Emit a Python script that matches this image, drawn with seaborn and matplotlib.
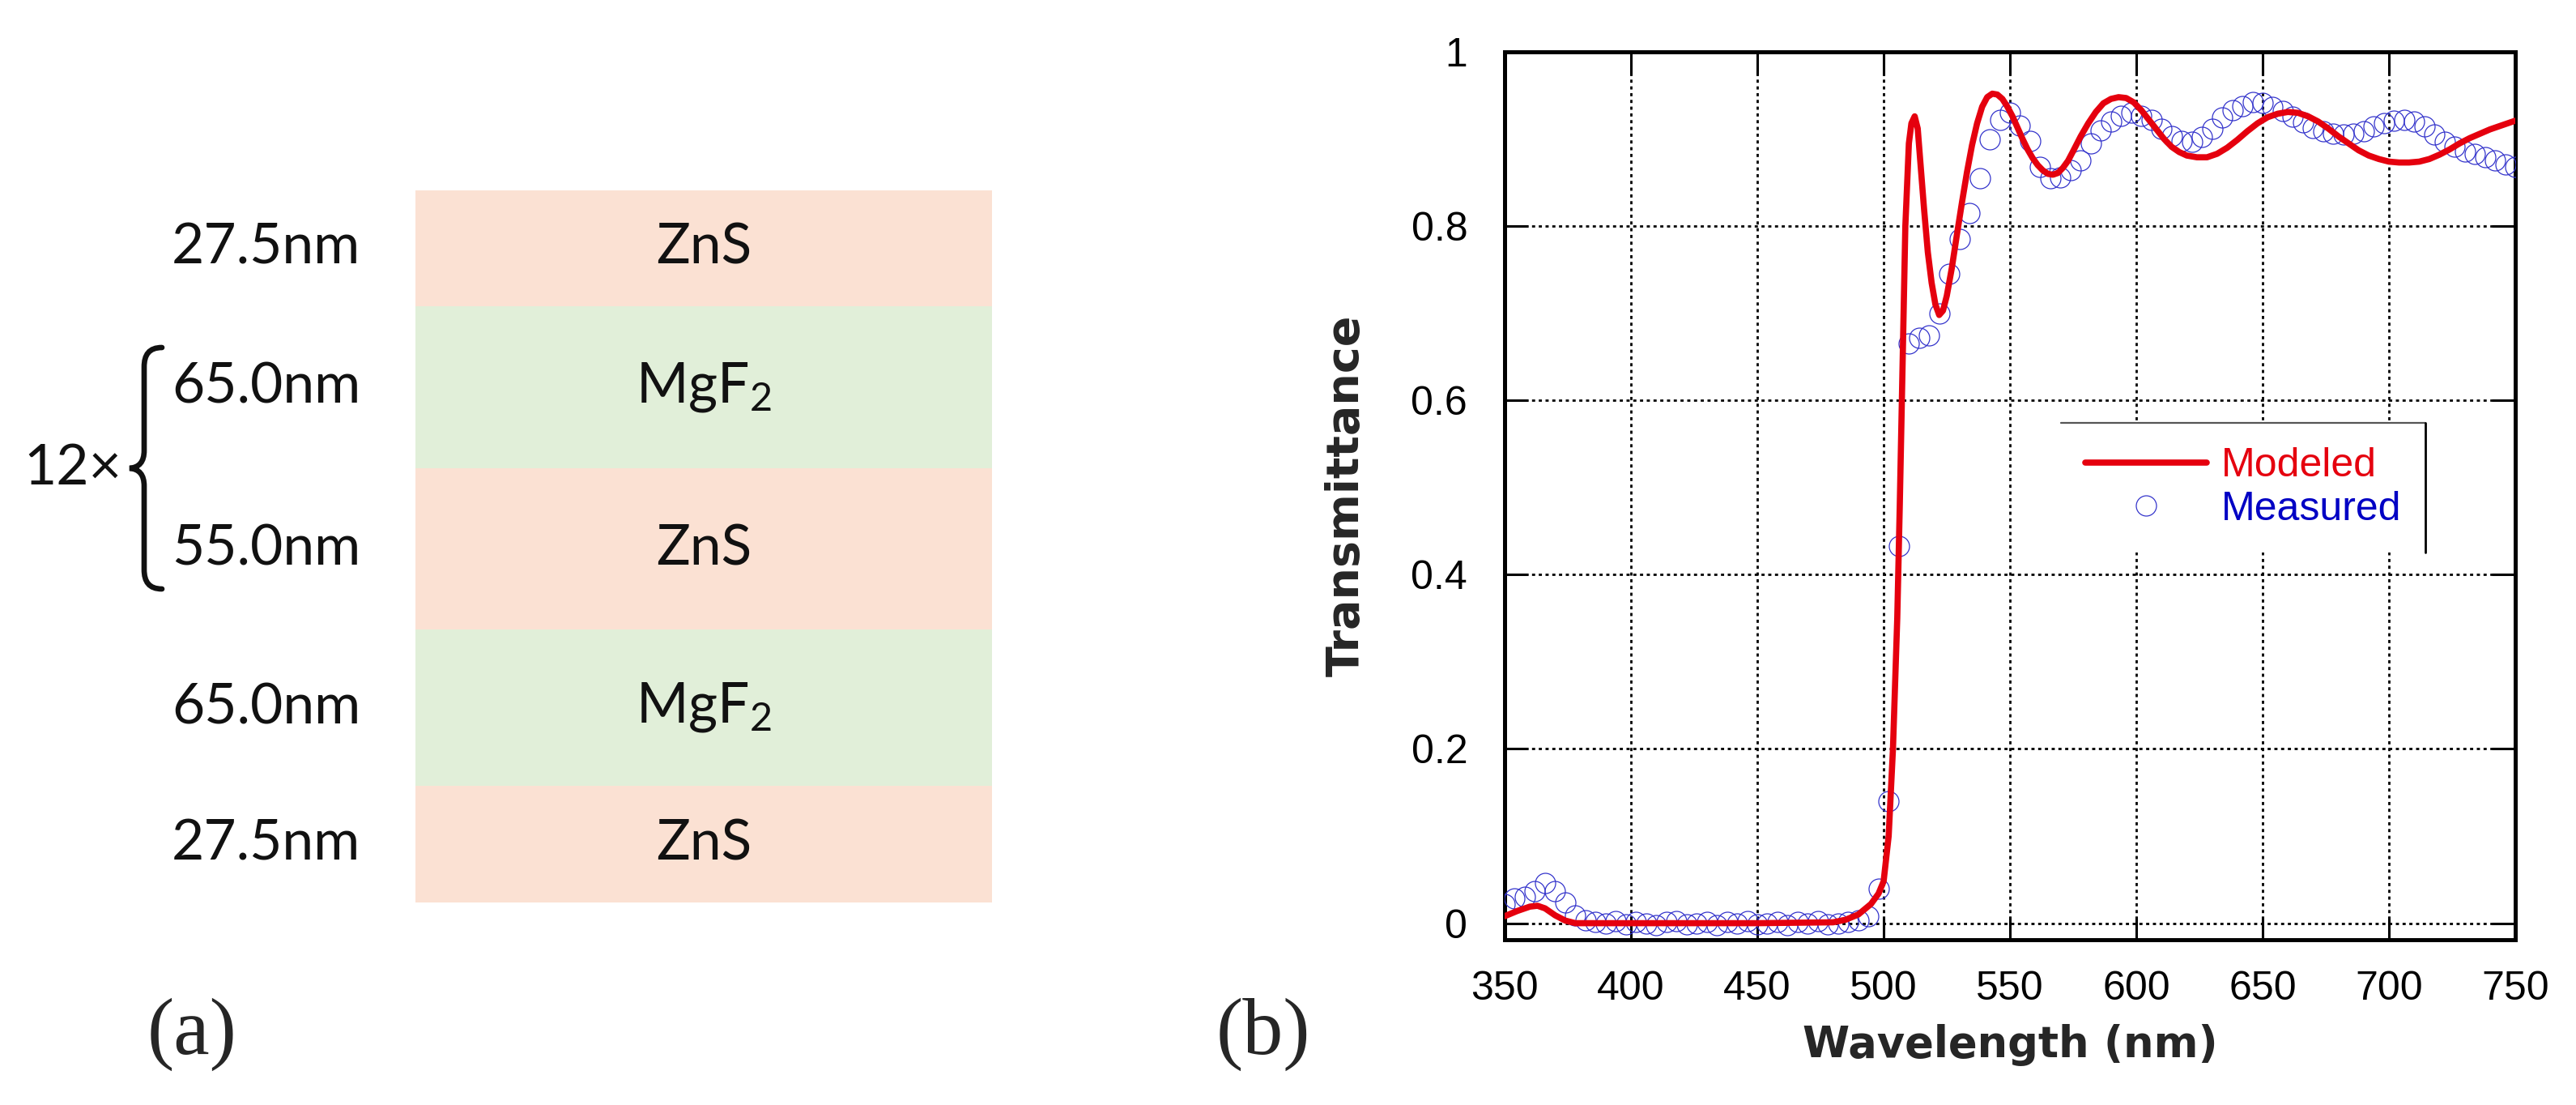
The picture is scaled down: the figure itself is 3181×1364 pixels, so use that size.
import numpy as np
import matplotlib
matplotlib.use("Agg")
import matplotlib.pyplot as plt
import matplotlib.transforms as mtransforms
from matplotlib.path import Path
from matplotlib.patches import PathPatch
from matplotlib.lines import Line2D
import seaborn as sns

# ---------------- (a) layer stack ----------------
layer_names = ["ZnS", "MgF$_2$", "ZnS", "MgF$_2$", "ZnS"]
layer_thickness = ["27.5nm", "65.0nm", "55.0nm", "65.0nm", "27.5nm"]
band_height = [143, 200, 199, 193, 144]   # schematic heights, not to scale
repeat_label = "12×"
zns_color = "#FBE1D3"
mgf_color = "#E1EFD9"

# ---------------- (b) transmittance ----------------
wl_model = [350, 355, 360, 363, 366, 370, 374, 378, 400, 450,
            480, 485, 490, 495, 498, 500, 502, 503.7, 505.4, 506.4,
            507.5, 508.6, 510, 511, 512.3, 513.5, 514.5, 516, 517.5, 519,
            520.5, 522, 523.5, 525, 527, 529, 531, 533, 535, 537,
            539, 541, 543, 545, 547, 549, 551, 553, 555, 557,
            559, 561, 563, 565, 567, 569, 571, 573, 575, 578,
            581, 584, 587, 590, 593, 596, 599, 602, 605, 608,
            611, 614, 617, 620, 624, 628, 632, 636, 640, 644,
            648, 652, 656, 660, 664, 668, 672, 676, 680, 684,
            688, 692, 696, 700, 704, 708, 712, 716, 720, 724,
            728, 732, 736, 740, 745, 750]
t_model = [0.008, 0.014, 0.019, 0.020, 0.017, 0.009, 0.003, 0.000, 0.000, 0.000,
           0.001, 0.004, 0.010, 0.022, 0.034, 0.048, 0.100, 0.200, 0.350, 0.480,
           0.640, 0.800, 0.895, 0.918, 0.926, 0.912, 0.875, 0.820, 0.770, 0.735,
           0.710, 0.698, 0.703, 0.720, 0.752, 0.790, 0.827, 0.862, 0.893, 0.918,
           0.937, 0.948, 0.952, 0.951, 0.946, 0.937, 0.926, 0.913, 0.900, 0.888,
           0.878, 0.870, 0.864, 0.860, 0.859, 0.861, 0.867, 0.875, 0.886, 0.903,
           0.918, 0.931, 0.941, 0.946, 0.948, 0.947, 0.942, 0.933, 0.922, 0.911,
           0.900, 0.891, 0.885, 0.881, 0.879, 0.879, 0.883, 0.890, 0.899, 0.909,
           0.918, 0.925, 0.929, 0.931, 0.930, 0.926, 0.920, 0.912, 0.903, 0.895,
           0.887, 0.881, 0.877, 0.874, 0.873, 0.873, 0.874, 0.877, 0.882, 0.888,
           0.895, 0.901, 0.906, 0.911, 0.916, 0.921]

wl_meas = list(range(350, 751, 4))
t_meas = [0.022, 0.028, 0.030, 0.037, 0.046, 0.037, 0.024, 0.009, 0.003, 0.001,
          0.000, 0.002, -0.001, 0.001, 0.000, -0.002, 0.001, 0.002, -0.001, 0.000,
          0.001, -0.002, 0.001, 0.000, 0.002, -0.001, 0.000, 0.001, -0.002, 0.001,
          0.000, 0.002, -0.001, 0.000, 0.001, 0.003, 0.008, 0.040, 0.140, 0.433,
          0.665, 0.672, 0.675, 0.700, 0.745, 0.785, 0.815, 0.855, 0.900, 0.922,
          0.930, 0.915, 0.898, 0.868, 0.855, 0.856, 0.864, 0.875, 0.895, 0.910,
          0.920, 0.927, 0.930, 0.927, 0.922, 0.912, 0.903, 0.898, 0.897, 0.902,
          0.912, 0.925, 0.933, 0.938, 0.942, 0.941, 0.937, 0.932, 0.926, 0.919,
          0.913, 0.909, 0.906, 0.905, 0.906, 0.909, 0.914, 0.918, 0.921, 0.922,
          0.920, 0.914, 0.905, 0.897, 0.891, 0.886, 0.883, 0.879, 0.875, 0.871,
          0.868]

x_ticks = [350, 400, 450, 500, 550, 600, 650, 700, 750]
y_ticks = [0, 0.2, 0.4, 0.6, 0.8, 1.0]
y_ticklabels = ["0", "0.2", "0.4", "0.6", "0.8", "1"]

red = "#E5000E"
blue_marker = "#3535CC"
blue_text = "#0000C4"

sns.set_style("ticks")
plt.rcParams["font.family"] = ["Liberation Sans", "DejaVu Sans"]
plt.rcParams["mathtext.fontset"] = "custom"
plt.rcParams["mathtext.rm"] = "Lato"
plt.rcParams["mathtext.it"] = "Lato:italic"
plt.rcParams["mathtext.bf"] = "Lato:bold"
plt.rcParams["mathtext.default"] = "rm"

W, H = 3181, 1364
fig = plt.figure(figsize=(W / 100, H / 100), dpi=100)


def fbox(l, t, r, b):
    return [l / W, 1 - b / H, (r - l) / W, (b - t) / H]


# ---- panel (a)
axa = fig.add_axes(fbox(513, 235, 1225, 1114))
bottoms = np.concatenate([[0], np.cumsum(band_height)[:-1]])
colors = [zns_color if n == "ZnS" else mgf_color for n in layer_names]
axa.bar([0] * len(band_height), band_height, bottom=bottoms, width=1,
        color=colors, linewidth=0)
axa.set_xlim(-0.5, 0.5)
axa.set_ylim(sum(band_height), 0)
axa.axis("off")

blend = mtransforms.blended_transform_factory(axa.transAxes, axa.transData)
centers = bottoms + np.array(band_height) / 2
for name, thick, yc in zip(layer_names, layer_thickness, centers):
    axa.text(0, yc, name, ha="center", va="center", fontsize=50,
             family="Lato", color="#111111")
    axa.text(-0.0955, yc, thick, transform=blend, ha="right", va="center",
             fontsize=50, family="Lato", color="#111111", clip_on=False)

# brace around the repeated pair
def px(x):
    return (x - 513) / 712

yc = bottoms[2]
verts = [(px(200), yc - 149),
         (px(184), yc - 149), (px(178), yc - 140), (px(178), yc - 125),
         (px(178), yc - 22),
         (px(178), yc - 8), (px(172), yc - 1), (px(160), yc),
         (px(172), yc + 1), (px(178), yc + 8), (px(178), yc + 22),
         (px(178), yc + 125),
         (px(178), yc + 140), (px(184), yc + 149), (px(200), yc + 149)]
codes = [Path.MOVETO, Path.CURVE4, Path.CURVE4, Path.CURVE4, Path.LINETO,
         Path.CURVE4, Path.CURVE4, Path.CURVE4, Path.CURVE4, Path.CURVE4,
         Path.CURVE4, Path.LINETO, Path.CURVE4, Path.CURVE4, Path.CURVE4]
axa.add_patch(PathPatch(Path(verts, codes), transform=blend, fill=False,
                        lw=4.8, edgecolor="#111111", clip_on=False,
                        capstyle="round"))
axa.text(px(150), yc, repeat_label, transform=blend, ha="right", va="center",
         fontsize=50, family="Lato", color="#111111", clip_on=False)

fig.text(237 / W, 1 - 1277 / H, "(a)", ha="center", va="center",
         family="Liberation Serif", fontsize=72)
fig.text(1560 / W, 1 - 1277 / H, "(b)", ha="center", va="center",
         family="Liberation Serif", fontsize=72)

# ---- panel (b)
axb = fig.add_axes(fbox(1858, 64, 3106, 1160))
sns.lineplot(x=wl_meas, y=t_meas, ax=axb, linestyle="none", marker="o",
             markersize=18, markerfacecolor="none",
             markeredgecolor=blue_marker, markeredgewidth=0.9,
             label="Measured", zorder=3)
sns.lineplot(x=wl_model, y=t_model, ax=axb, color=red, linewidth=5.5,
             label="Modeled", zorder=4, solid_joinstyle="round")

axb.set_xlim(350, 750)
axb.set_ylim(-0.019, 1.0)
axb.set_xticks(x_ticks)
axb.set_xticklabels([str(v) for v in x_ticks])
axb.set_yticks(y_ticks)
axb.set_yticklabels(y_ticklabels)
axb.grid(True, color="black", linestyle=(0, (1.4, 1.6)), linewidth=2.0)
axb.set_axisbelow(True)
axb.tick_params(direction="in", length=21, width=2.2, top=True, right=True,
                labelsize=36, colors="black")
axb.tick_params(axis="x", pad=27)
axb.tick_params(axis="y", pad=33)
for sp in axb.spines.values():
    sp.set_linewidth(3.6)
    sp.set_color("black")

axb.set_xlabel("Wavelength (nm)", fontsize=38, fontweight="bold",
               family="DejaVu Sans")
axb.xaxis.set_label_coords(0.5, -0.095)
axb.set_ylabel("Transmittance", fontsize=40, fontweight="bold",
               family="DejaVu Sans")
axb.yaxis.set_label_coords(-0.135, 0.5)

handles, labels = axb.get_legend_handles_labels()
order = [labels.index("Modeled"), labels.index("Measured")]
leg = axb.legend([handles[i] for i in order], [labels[i] for i in order],
                 loc="upper right", bbox_to_anchor=(2995 / W, 1 - 522 / H),
                 bbox_transform=fig.transFigure, frameon=True, fancybox=False,
                 facecolor="white", edgecolor="none", framealpha=1,
                 fontsize=36, handlelength=3.0, handletextpad=0.36,
                 borderpad=0.6, labelspacing=0.15, borderaxespad=0)
for t, c in zip(leg.get_texts(), [red, blue_text]):
    t.set_color(c)

fig.canvas.draw()
bb = leg.get_frame().get_window_extent()
x0, x1, y0, y1 = bb.x0 / W, bb.x1 / W, bb.y0 / H, bb.y1 / H
fig.add_artist(Line2D([x0, x1], [y1, y1], transform=fig.transFigure,
                      color="#555555", lw=1.6))
fig.add_artist(Line2D([x1, x1], [y1, y0], transform=fig.transFigure,
                      color="black", lw=2.0))

fig.savefig("out.png", dpi=100)
